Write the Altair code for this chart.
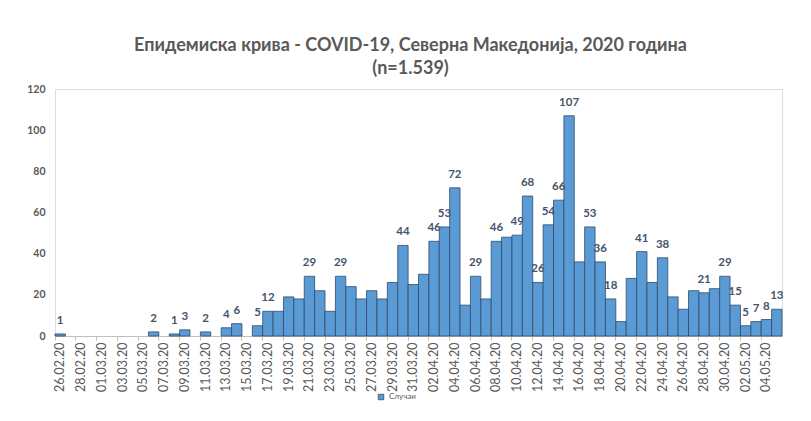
import altair as alt
import pandas as pd

dates = ["26.02.20", "27.02.20", "28.02.20", "29.02.20"] + \
    [f"{d:02d}.03.20" for d in range(1, 32)] + \
    [f"{d:02d}.04.20" for d in range(1, 31)] + \
    [f"{d:02d}.05.20" for d in range(1, 6)]

cases = [1, 0, 0, 0,
         0, 0, 0, 0, 0, 2, 0, 1, 3, 0, 2, 0, 4, 6, 0, 5, 12, 12, 19, 18, 29, 22, 12, 29, 24, 18, 22, 18, 26, 44, 25,
         30, 46, 53, 72, 15, 29, 18, 46, 48, 49, 68, 26, 54, 66, 107, 36, 53, 36, 18, 7, 28, 41, 26, 38, 19, 13, 22, 21, 23, 29,
         15, 5, 7, 8, 13]

shown = ["26.02.20", "06.03.20", "08.03.20", "09.03.20", "11.03.20", "13.03.20", "14.03.20",
         "16.03.20", "17.03.20", "21.03.20", "24.03.20", "30.03.20", "02.04.20", "03.04.20",
         "04.04.20", "06.04.20", "08.04.20", "10.04.20", "11.04.20", "12.04.20", "13.04.20",
         "14.04.20", "15.04.20", "17.04.20", "18.04.20", "19.04.20", "22.04.20", "24.04.20",
         "28.04.20", "30.04.20", "01.05.20", "02.05.20", "03.05.20", "04.05.20", "05.05.20"]

tick_labels = dates[::2]
series_name = "Случаи"
title_lines = ["Епидемиска крива - COVID-19, Северна Македонија, 2020 година", "(n=1.539)"]

df = pd.DataFrame({"date": dates, "cases": cases, "series": series_name})
df["label"] = [str(c) if d in shown else "" for d, c in zip(dates, cases)]
df_bars = df[df["cases"] > 0]

FONT = "Lato"
GRAY = "#595959"
xscale = alt.Scale(domain=dates, paddingInner=0, paddingOuter=0.0)

x_main = alt.X("date:N", sort=dates, title=None, scale=xscale,
               axis=alt.Axis(values=tick_labels, labelAngle=270, labelFont=FONT,
                             labelFontSize=12.5, labelFontWeight="normal", labelColor=GRAY,
                             ticks=False, domainColor="#bfbfbf", labelPadding=6,
                             labelBaseline="middle", labelAlign="right", orient="bottom"))

bars = alt.Chart(df_bars).mark_bar(stroke="#2e4a6b", strokeWidth=0.8, color="#5b9bd5").encode(
    x=x_main,
    y=alt.Y("cases:Q", title=None,
            scale=alt.Scale(domain=[0, 120]),
            axis=alt.Axis(values=[0, 20, 40, 60, 80, 100, 120], grid=False, domain=False,
                          ticks=False, labelFont=FONT, labelFontSize=10.5,
                          labelFontWeight="bold", labelColor=GRAY, labelPadding=10)),
    color=alt.Color("series:N", scale=alt.Scale(range=["#5b9bd5"]),
                    legend=alt.Legend(title=None, orient="none", legendX=322, legendY=304,
                                      symbolType="square", symbolSize=30,
                                      symbolStrokeColor="#2e4a6b", symbolStrokeWidth=0.8,
                                      labelFont=FONT, labelFontSize=8, labelColor=GRAY)),
)

texts = alt.Chart(df).mark_text(baseline="bottom", dy=-8, font=FONT, fontSize=11.5,
                                fontWeight="bold", color="#44546a").encode(
    x=alt.X("date:N", sort=dates, scale=xscale, axis=None),
    y=alt.Y("cases:Q", scale=alt.Scale(domain=[0, 120]), axis=None),
    text="label:N",
)

tick_layer = alt.Chart(df).mark_bar(opacity=0).encode(
    x=alt.X("date:N", sort=dates, title=None, scale=xscale,
            axis=alt.Axis(values=tick_labels, labels=False, domain=False, ticks=True,
                          tickSize=4, tickColor="#bfbfbf", bandPosition=0, orient="bottom")),
    y=alt.Y("cases:Q", scale=alt.Scale(domain=[0, 120]), axis=None),
)

chart = alt.layer(bars, texts, tick_layer).resolve_axis(x="independent", y="independent").properties(
    width=727, height=247,
    title=alt.Title(title_lines, font=FONT, fontSize=18, fontWeight="bold", color=GRAY,
                    anchor="middle", offset=6, dx=-8, lineHeight=23),
    autosize=alt.AutoSizeParams(type="none"),
    padding={"left": 47, "top": 81, "right": 21, "bottom": 77},
).configure_view(stroke=None).configure(background="white")

chart.save("out.html", embed_options={"renderer": "svg", "actions": False})
